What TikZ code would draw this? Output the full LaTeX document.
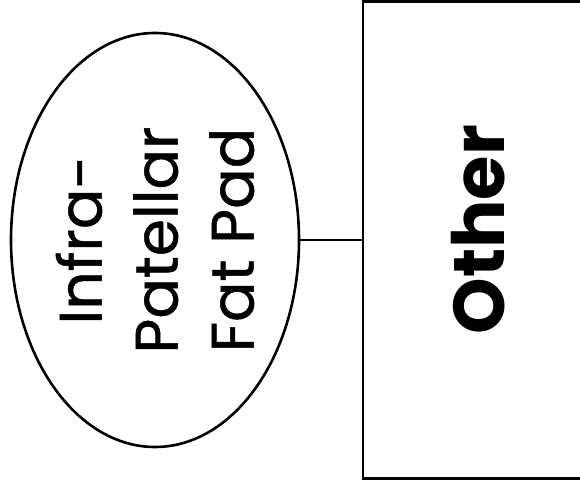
\documentclass[tikz,border=0pt]{standalone}
\usepackage{fontspec}
\setmainfont{Poppins}
\newfontfamily\padfont{Poppins}[FakeBold=0.8]
\usetikzlibrary{positioning,shapes.geometric}

\begin{document}
\begin{tikzpicture}[
    x=1pt, y=1pt,
    every node/.style={font=\padfont\fontsize{60}{76}\selectfont},
    part/.style={draw, line width=2.6pt, inner sep=0pt, rotate=90, align=center},
    link/.style={line width=2.6pt}
  ]
    \useasboundingbox (0,0) rectangle (580,486);
    \clip (0,0) rectangle (580,486);

    \node[part, ellipse, minimum width=414, minimum height=288] (pad) at (155,246) {Infra-\\Patellar\\Fat Pad};

    % box on the right runs past the edge of the page
    \node[part, rectangle, minimum width=477, minimum height=230,
          font=\rmfamily\fontsize{72}{80}\selectfont\bfseries] (other) at (478,246.25) {\hspace*{20pt}Other};

    \draw[link] (pad.south) -- (pad.south -| other.north);
  \end{tikzpicture}
\end{document}
